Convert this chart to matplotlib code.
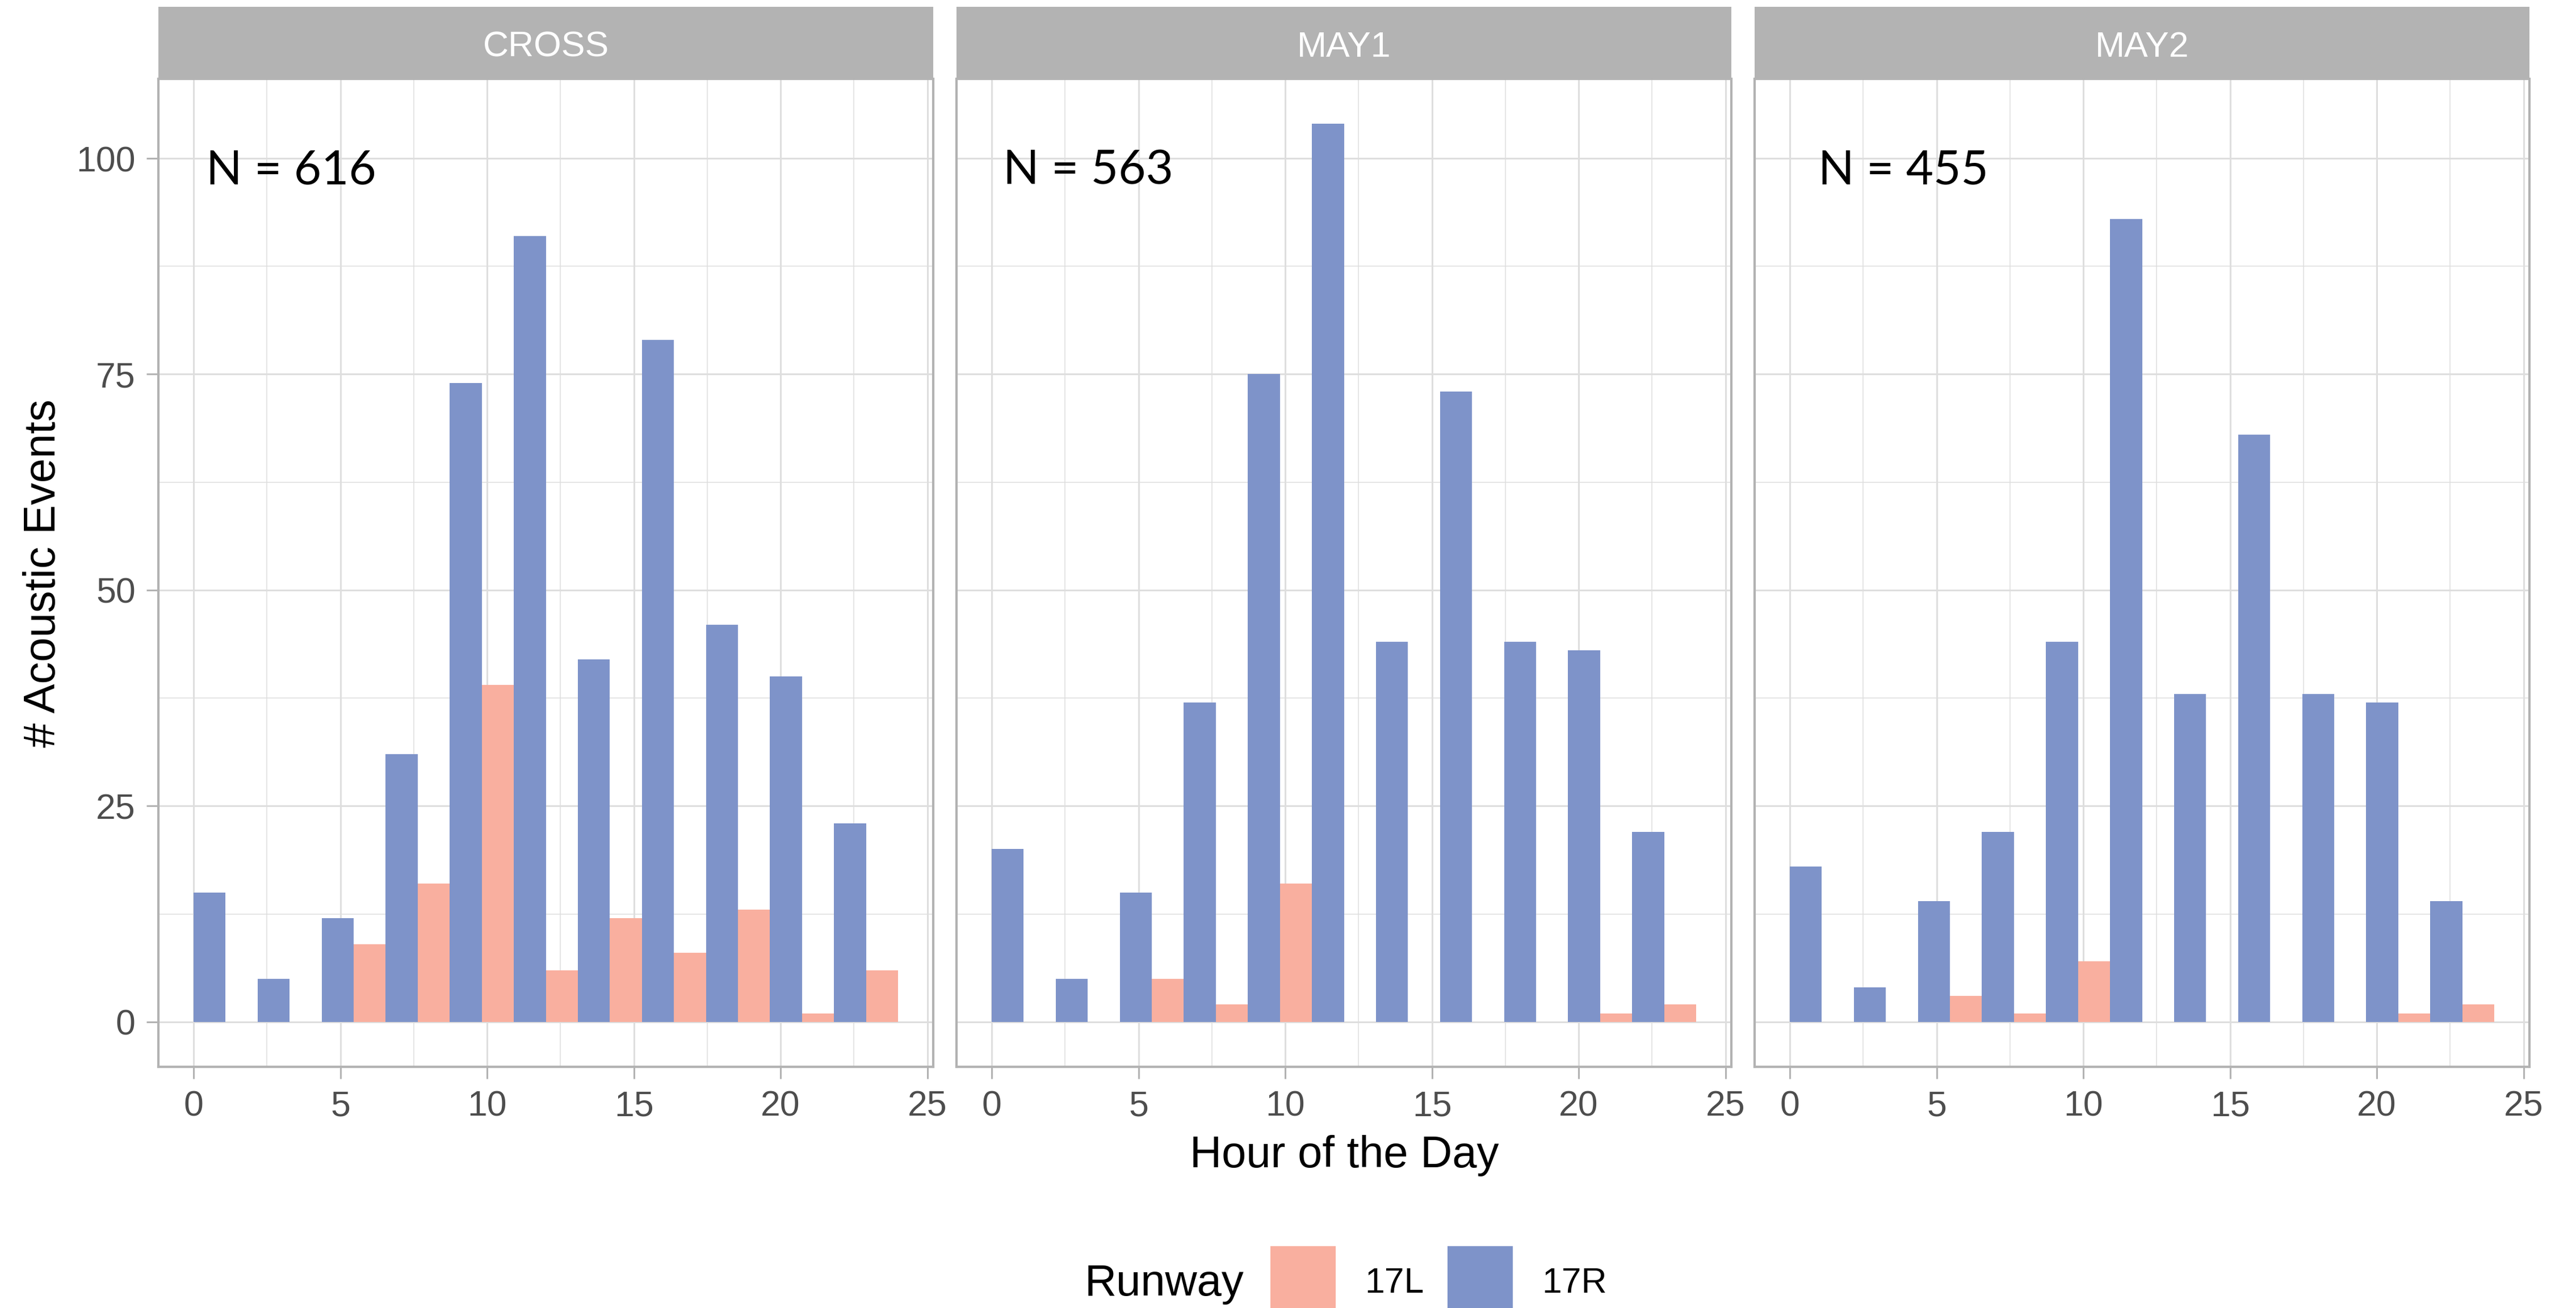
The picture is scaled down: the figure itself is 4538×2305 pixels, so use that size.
"""Hourly acoustic events by runway, faceted by site (ggplot theme_light look)."""
import numpy as np
import matplotlib
matplotlib.use('Agg')
import matplotlib.pyplot as plt
from matplotlib.patches import Rectangle

plt.rcParams['font.family'] = ['Liberation Sans', 'DejaVu Sans']

# ── data ──
sites = ['CROSS', 'MAY1', 'MAY2']
n_labels = ['N = 616', 'N = 563', 'N = 455']
n_xpos = [0.43, 0.39, 0.97]          # where the N annotation starts (hour units)
runways = ['17L', '17R']
bin_centers = np.arange(12) * 24 / 11  # 12 histogram bins over 0..24 h

cross_17L = [0, 0, 0, 9, 16, 39, 6, 12, 8, 13, 1, 6]
cross_17R = [15, 5, 12, 31, 74, 91, 42, 79, 46, 40, 23, 0]
may1_17L = [0, 0, 0, 5, 2, 16, 0, 0, 0, 0, 1, 2]
may1_17R = [20, 5, 15, 37, 75, 104, 44, 73, 44, 43, 22, 0]
may2_17L = [0, 0, 0, 3, 1, 7, 0, 0, 0, 0, 1, 2]
may2_17R = [18, 4, 14, 22, 44, 93, 38, 68, 38, 37, 14, 0]

counts = {
    'CROSS': (cross_17L, cross_17R),
    'MAY1': (may1_17L, may1_17R),
    'MAY2': (may2_17L, may2_17R),
}

col_L = '#F9AF9F'
col_R = '#7E93C9'
GRID = '#DEDEDE'
BORDER = '#B3B3B3'
TXT = '#4D4D4D'

W, H = 4538, 2305
fig = plt.figure(figsize=(W / 100, H / 100), dpi=100)

panel_left = [279, 1685, 3091]
panel_w = 1365
panel_top, panel_bot, strip_top = 139, 1880, 12
binw = 24 / 11

for i, site in enumerate(sites):
    x0 = panel_left[i]
    ax = fig.add_axes([x0 / W, (H - panel_bot) / H, panel_w / W, (panel_bot - panel_top) / H])
    lval, rval = counts[site]
    for c, vl, vr in zip(bin_centers, lval, rval):
        if vl > 0:
            ax.bar(c - binw / 2, vl, width=binw / 2, align='edge', color=col_L, linewidth=0, zorder=3)
        if vr > 0:
            ax.bar(c, vr, width=binw / 2, align='edge', color=col_R, linewidth=0, zorder=3)

    ax.set_xlim(-1.2, 25.2)
    ax.set_ylim(-5.2, 109.2)
    ax.set_xticks([0, 5, 10, 15, 20, 25])
    ax.set_xticks([2.5, 7.5, 12.5, 17.5, 22.5], minor=True)
    ax.set_yticks([0, 25, 50, 75, 100])
    ax.set_yticks([12.5, 37.5, 62.5, 87.5], minor=True)
    ax.grid(True, which='major', color=GRID, linewidth=2.2, zorder=0)
    ax.grid(True, which='minor', color=GRID, linewidth=1.1, zorder=0)
    ax.set_axisbelow(True)
    ax.tick_params(which='minor', length=0)
    ax.tick_params(which='major', length=15, width=2.2, color=BORDER,
                   labelsize=45, labelcolor=TXT, pad=14)
    if i > 0:
        ax.tick_params(axis='y', left=False, labelleft=False)
    for sp in ax.spines.values():
        sp.set_color(BORDER)
        sp.set_linewidth(3)

    ax.text(n_xpos[i], 97.0, n_labels[i], fontsize=60, family=['Lato', 'DejaVu Sans'],
            color='black', va='baseline', ha='left', zorder=5)

    # facet strip
    sax = fig.add_axes([x0 / W, (H - panel_top) / H, panel_w / W, (panel_top - strip_top) / H])
    sax.set_facecolor(BORDER)
    sax.set_xticks([])
    sax.set_yticks([])
    for sp in sax.spines.values():
        sp.set_visible(False)
    sax.text(0.5, (panel_top - 100) / (panel_top - strip_top), site, color='white',
             fontsize=45, ha='center', va='baseline', transform=sax.transAxes)

# axis titles
fig.text(2368 / W, (H - 2057) / H, 'Hour of the Day', fontsize=56, ha='center', va='baseline')
fig.text(77 / W, (H - 1010) / H, '# Acoustic Events', fontsize=56, rotation=90,
         ha='center', va='center')

# legend at the bottom
fig.text(1911 / W, (H - 2283) / H, 'Runway', fontsize=56, ha='left', va='baseline')
key_x = [2238, 2550]
lab_x = [2404, 2716]
for kx, lx, lab, col in zip(key_x, lab_x, runways, [col_L, col_R]):
    fig.patches.append(Rectangle((kx / W, (H - 2312) / H), 115 / W, 116 / H,
                                 transform=fig.transFigure, facecolor=col, linewidth=0))
    fig.text(lx / W, (H - 2278) / H, lab, fontsize=45, ha='left', va='baseline')

fig.savefig('out.png', dpi=100)
